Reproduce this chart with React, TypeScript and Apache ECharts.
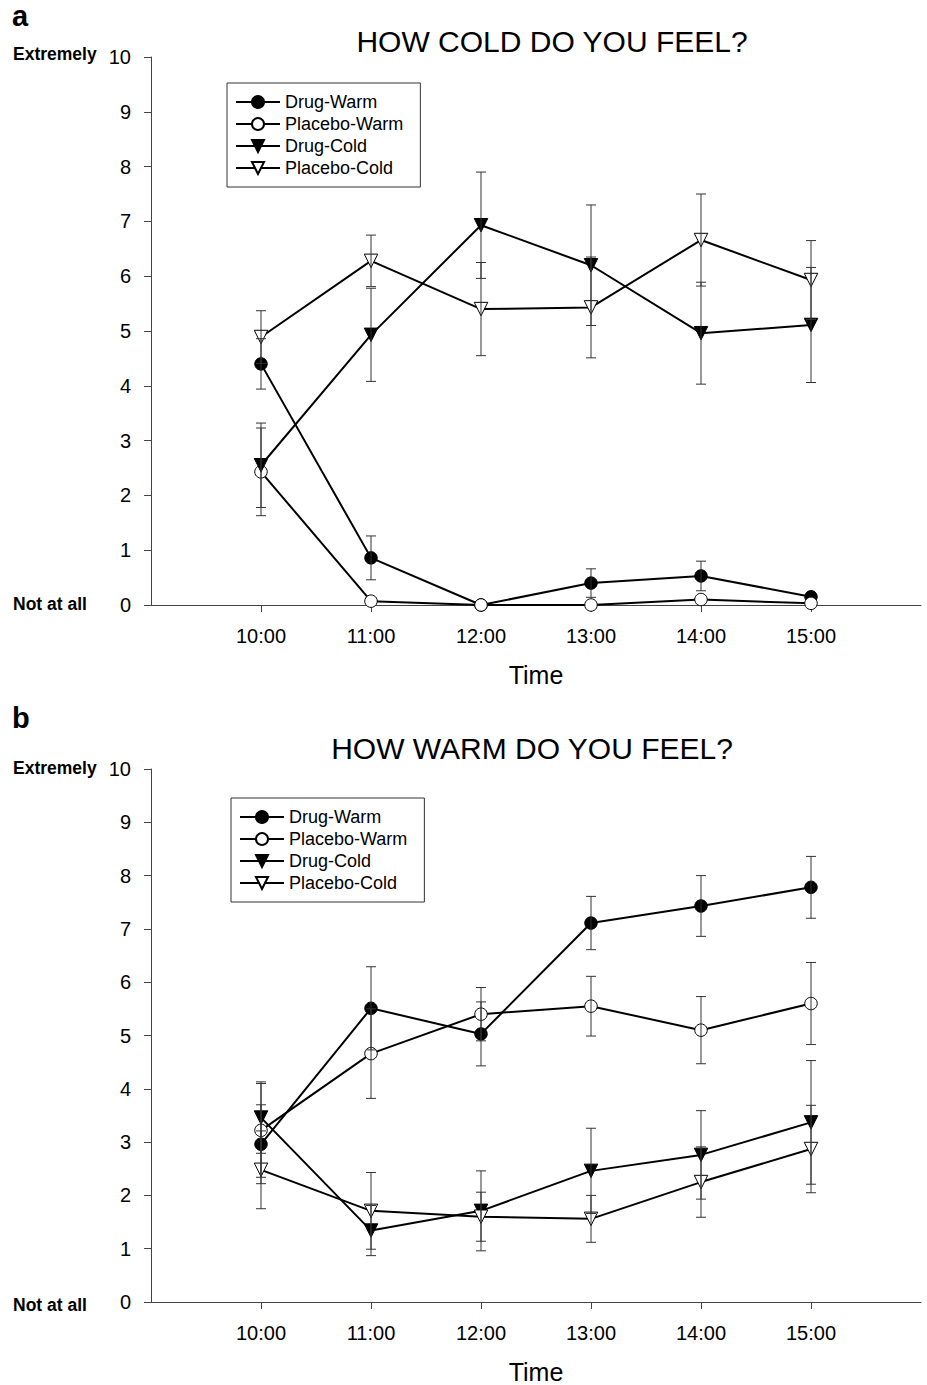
import React, { useEffect, useRef } from "react";
import * as echarts from "echarts";

const times = [10, 11, 12, 13, 14, 15];
const timeLabels = ["10:00", "11:00", "12:00", "13:00", "14:00", "15:00"];
const seriesNames = ["Drug-Warm", "Placebo-Warm", "Drug-Cold", "Placebo-Cold"];

// Panel a: HOW COLD DO YOU FEEL?
const coldDrugWarm = [4.4, 0.86, 0.0, 0.4, 0.53, 0.15];
const coldDrugWarmErr = [0.46, 0.4, 0, 0.26, 0.27, 0];
const coldPlaceboWarm = [2.43, 0.07, 0.0, 0.0, 0.1, 0.03];
const coldPlaceboWarmErr = [0.8, 0, 0, 0, 0, 0];
const coldDrugCold = [2.55, 4.93, 6.93, 6.2, 4.96, 5.11];
const coldDrugColdErr = [0.77, 0.85, 0.97, 1.1, 0.93, 1.05];
const coldPlaceboCold = [4.89, 6.28, 5.4, 5.43, 6.66, 5.93];
const coldPlaceboColdErr = [0.48, 0.47, 0.85, 0.92, 0.84, 0.72];

// Panel b: HOW WARM DO YOU FEEL?
const warmDrugWarm = [2.96, 5.51, 5.03, 7.11, 7.43, 7.78];
const warmDrugWarmErr = [0.74, 0.78, 0.6, 0.5, 0.57, 0.58];
const warmPlaceboWarm = [3.22, 4.66, 5.4, 5.55, 5.1, 5.6];
const warmPlaceboWarmErr = [0.88, 0.84, 0.5, 0.56, 0.63, 0.77];
const warmDrugCold = [3.46, 1.34, 1.71, 2.46, 2.76, 3.37];
const warmDrugColdErr = [0.67, 0.47, 0.75, 0.8, 0.83, 1.16];
const warmPlaceboCold = [2.48, 1.71, 1.6, 1.56, 2.25, 2.87];
const warmPlaceboColdErr = [0.73, 0.72, 0.46, 0.44, 0.66, 0.82];

const FONT = "Liberation Sans, Arial, Helvetica, sans-serif";

const markerStyles = [
  { symbol: "circle", size: 12.5, rotate: 0, fill: "#000" },
  { symbol: "circle", size: 12.5, rotate: 0, fill: "#fff" },
  { symbol: "triangle", size: 13.5, rotate: 180, fill: "#000" },
  { symbol: "triangle", size: 13.5, rotate: 180, fill: "#fff" },
];

function lineSeries(name: string, vals: number[], idx: number, k: number) {
  const m = markerStyles[k];
  return {
    type: "line",
    name,
    xAxisIndex: idx,
    yAxisIndex: idx,
    data: times.map((t, i) => [t, vals[i]]),
    symbol: m.symbol,
    symbolSize: m.size,
    symbolRotate: m.rotate,
    showAllSymbol: true,
    clip: false,
    lineStyle: { color: "#000", width: 2 },
    itemStyle: { color: m.fill, borderColor: "#000", borderWidth: 1 },
    z: 3,
  };
}

function errSeries(vals: number[], errs: number[], idx: number) {
  const data = times
    .map((t, i) => [t, vals[i] - errs[i], vals[i] + errs[i], errs[i]])
    .filter((d) => d[3] > 0);
  return {
    type: "custom",
    xAxisIndex: idx,
    yAxisIndex: idx,
    data,
    encode: { x: 0, y: [1, 2] },
    clip: false,
    z: 4,
    silent: true,
    renderItem: (params: any, api: any) => {
      const x = api.value(0);
      const lo = api.value(1);
      const hi = api.value(2);
      const p1 = api.coord([x, hi]);
      const p2 = api.coord([x, lo]);
      const w = 5;
      const style = { stroke: "#333", lineWidth: 1 };
      return {
        type: "group",
        children: [
          { type: "line", shape: { x1: p1[0], y1: p1[1], x2: p2[0], y2: p2[1] }, style },
          { type: "line", shape: { x1: p1[0] - w, y1: p1[1], x2: p1[0] + w, y2: p1[1] }, style },
          { type: "line", shape: { x1: p2[0] - w, y1: p2[1], x2: p2[0] + w, y2: p2[1] }, style },
        ],
      };
    },
  };
}

function xAxisFor(idx: number) {
  return {
    type: "value",
    gridIndex: idx,
    min: 9,
    max: 16,
    interval: 1,
    name: "Time",
    nameLocation: "middle",
    nameGap: 57,
    nameTextStyle: { fontSize: 25, color: "#000", fontFamily: FONT },
    splitLine: { show: false },
    axisLine: { lineStyle: { color: "#444", width: 1 } },
    axisTick: { show: true, length: 7, lineStyle: { color: "#444" }, customValues: times },
    axisLabel: {
      fontSize: 20,
      color: "#000",
      fontFamily: FONT,
      margin: 21,
      customValues: times,
      formatter: (v: number) => {
        const i = times.indexOf(v);
        return i >= 0 ? timeLabels[i] : "";
      },
    },
  };
}

function yAxisFor(idx: number) {
  return {
    type: "value",
    gridIndex: idx,
    min: 0,
    max: 10,
    interval: 1,
    splitLine: { show: false },
    axisLine: { show: true, lineStyle: { color: "#444", width: 1 } },
    axisTick: { show: true, length: 7, lineStyle: { color: "#444" } },
    axisLabel: { fontSize: 20, color: "#000", fontFamily: FONT, margin: 20 },
  };
}

function legendFor(left: number, top: number) {
  return {
    orient: "vertical",
    left,
    top,
    data: seriesNames,
    itemWidth: 44,
    itemHeight: 15,
    itemGap: 4,
    padding: [10, 17, 10, 8],
    borderColor: "#333",
    borderWidth: 1,
    backgroundColor: "#fff",
    selectedMode: false,
    textStyle: { fontSize: 18, color: "#000", fontFamily: FONT },
  };
}

export default function App() {
  const ref = useRef<HTMLDivElement>(null);
  useEffect(() => {
    if (!ref.current) return;
    const chart = echarts.init(ref.current, null, { renderer: "svg" });
    const panelA = [coldDrugWarm, coldPlaceboWarm, coldDrugCold, coldPlaceboCold];
    const panelAErr = [coldDrugWarmErr, coldPlaceboWarmErr, coldDrugColdErr, coldPlaceboColdErr];
    const panelB = [warmDrugWarm, warmPlaceboWarm, warmDrugCold, warmPlaceboCold];
    const panelBErr = [warmDrugWarmErr, warmPlaceboWarmErr, warmDrugColdErr, warmPlaceboColdErr];
    const series: any[] = [];
    [panelA, panelB].forEach((panel, idx) => {
      panel.forEach((vals, k) => series.push(lineSeries(seriesNames[k], vals, idx, k)));
    });
    [panelA, panelB].forEach((panel, idx) => {
      const errs = idx === 0 ? panelAErr : panelBErr;
      panel.forEach((vals, k) => series.push(errSeries(vals, errs[k], idx)));
    });
    const boldText = (text: string, x: number, y: number, size: number) => ({
      type: "text",
      left: x,
      top: y,
      style: { text, fontSize: size, fontWeight: "bold", fill: "#000", fontFamily: FONT },
    });
    const title = (text: string, x: number, y: number) => ({
      type: "text",
      x,
      y,
      style: {
        text,
        fontSize: 30,
        fill: "#000",
        fontFamily: FONT,
        align: "center",
        verticalAlign: "middle",
      },
    });
    chart.setOption({
      animation: false,
      backgroundColor: "#fff",
      grid: [
        { left: 151, right: 6, top: 57, height: 548 },
        { left: 151, right: 6, top: 769, height: 537 },
      ],
      xAxis: [xAxisFor(0), xAxisFor(1)],
      yAxis: [yAxisFor(0), yAxisFor(1)],
      legend: [legendFor(227, 83), legendFor(231, 798)],
      graphic: [
        boldText("a", 12, 1, 29),
        boldText("b", 12, 703, 29),
        boldText("Extremely", 13, 45, 17.5),
        boldText("Not at all", 13, 595, 17.5),
        boldText("Extremely", 13, 759, 17.5),
        boldText("Not at all", 13, 1296, 17.5),
        title("HOW COLD DO YOU FEEL?", 552, 41),
        title("HOW WARM DO YOU FEEL?", 532, 748),
      ],
      series,
    });
    return () => chart.dispose();
  }, []);
  return (
    <div
      ref={ref}
      style={{ position: "absolute", left: 0, top: 0, width: 927, height: 1385, background: "#fff" }}
    />
  );
}
